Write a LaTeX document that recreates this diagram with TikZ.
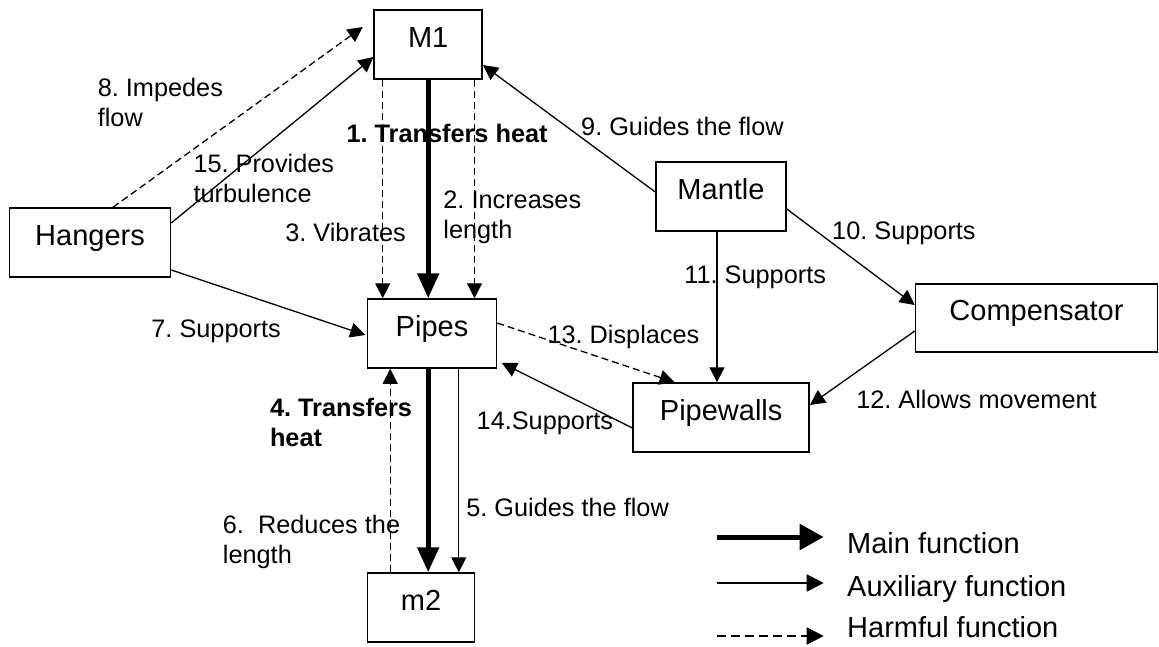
\documentclass[tikz,border=0pt]{standalone}
\usepackage{fontspec}
\setmainfont{Liberation Sans}
\usetikzlibrary{arrows.meta}
\frenchspacing
\begin{document}
\frenchspacing
\begin{tikzpicture}[x=1pt,y=-1pt,
  box/.style={draw,line width=1.5pt,inner sep=0pt,minimum height=69pt,
    font=\fontsize{29}{33}\selectfont,text height=22pt,text depth=16.2pt},
  lbl/.style={anchor=west,inner sep=0pt,align=left,font=\fontsize{25.3}{30}\selectfont},
  blbl/.style={lbl,font=\fontsize{25.3}{30}\selectfont\bfseries},
  leg/.style={anchor=base west,inner sep=0pt,font=\fontsize{29}{33}\selectfont},
  aux/.style={line width=1.3pt,-{Triangle[length=15pt,width=15pt]}},
  harm/.style={aux,dash pattern=on 7pt off 4pt},
  mainf/.style={line width=5pt,-{Triangle[length=25pt,width=21pt]}},
  legaux/.style={line width=1.6pt,-{Triangle[length=17pt,width=17pt]}},
  legharm/.style={legaux,dash pattern=on 9pt off 5pt},
  legmain/.style={line width=5pt,-{Triangle[length=24pt,width=25pt]}}]
\useasboundingbox (0,0) rectangle (1159,647);

% boxes
\node[box,minimum width=108pt] (M1)    at (428.2,44.5)  {M1};
\node[box,minimum width=161pt] (Hang)  at (90,242.5)    {Hangers};
\node[box,minimum width=129pt] (Pipes) at (432,333.5)   {Pipes};
\node[box,minimum width=107pt] (m2)    at (421,607.5)   {m2};
\node[box,minimum width=130pt] (Mant)  at (721,196.5)   {Mantle};
\node[box,minimum width=242pt,minimum height=68pt] (Comp) at (1036.5,318) {Compensator};
\node[box,minimum width=176pt] (PW)    at (721.2,417.5) {Pipewalls};

% coordinates
\coordinate (c1) at (M1.south);
\coordinate (c3) at ([xshift=-45.5pt]M1.south);
\coordinate (c2) at ([xshift=46.3pt]M1.south);
\coordinate (p4) at (c1 |- Pipes.south);
\coordinate (p5) at ([xshift=30.6pt]p4);
\coordinate (p6) at ([xshift=-38pt]p4);
\coordinate (h8) at ([xshift=23pt]Hang.north);
\coordinate (m8) at ([xshift=-10.7pt,yshift=17.5pt]M1.west);
\coordinate (h15) at ([yshift=19.5pt]Hang.east);
\coordinate (m15) at ([yshift=-12.5pt]M1.west);
\coordinate (h7) at ([yshift=-27.5pt]Hang.east);
\coordinate (p7) at ([xshift=-1.5pt,yshift=-1.5pt]Pipes.west);
\coordinate (n9) at ([yshift=4.5pt]Mant.west);
\coordinate (m9) at ([yshift=-20.5pt]M1.east);
\coordinate (n10) at ([yshift=-12.5pt]Mant.east);
\coordinate (k10) at ([yshift=13pt]Comp.west);
\coordinate (n11) at ([xshift=-4pt]Mant.south);
\coordinate (k12) at ([yshift=-13pt]Comp.west);
\coordinate (w12) at ([yshift=12.5pt]PW.east);
\coordinate (p13) at ([yshift=10.5pt]Pipes.east);
\coordinate (w13) at ([xshift=-46.6pt]PW.north);
\coordinate (w14) at ([yshift=-10.5pt]PW.west);
\coordinate (p14) at ([xshift=4.6pt,yshift=-29.5pt]Pipes.east);

% connectors
\draw[mainf] (c1) -- (c1 |- Pipes.north);
\draw[harm] (c3) -- (c3 |- Pipes.north);
\draw[harm] (c2) -- (c2 |- Pipes.north);
\draw[mainf] (p4) -- (p4 |- m2.north);
\draw[aux] (p5) -- (p5 |- m2.north);
\draw[harm] (p6 |- m2.north) -- (p6);
\draw[harm] (h8) -- (m8);
\draw[aux] (h15) -- (m15);
\draw[aux] (h7) -- (p7);
\draw[aux] (n9) -- (m9);
\draw[aux] (n10) -- (k10);
\draw[aux] (n11) -- (n11 |- PW.north);
\draw[aux] (k12) -- (w12);
\draw[harm] (p13) -- (w13);
\draw[aux] (w14) -- (p14);

% labels
\node[lbl] (l8) at (97.6,102) {8. Impedes\\flow};
\node[lbl] (l15) at (193.3,178) {15. Provides\\turbulence};
\node[blbl] (l1) at (346.3,133) {1. Transfers heat};
\node[lbl] (l3) at (285.1,232) {3. Vibrates};
\node[lbl] (l2) at (443.2,217) {2. Increases\\length};
\node[lbl] (l9) at (581,126) {9. Guides the flow};
\node[lbl] (l10) at (832,233) {10. Supports};
\node[lbl] (l11) at (684.2,277) {11. Supports};
\node[lbl] (l7) at (151.2,331) {7. Supports};
\node[lbl] (l13) at (547.3,337) {13. Displaces};
\node[blbl] (l4) at (269.8,422) {4. Transfers\\heat};
\node[lbl] (l14) at (476.5,423) {14.Supports};
\node[lbl] (l12) at (856.1,399) {12. Allows movement};
\node[lbl] (l5) at (466.1,507) {5. Guides the flow};
\node[lbl] (l6) at (222.7,542) {6.\ \ Reduces the\\length};

% legend
\node[leg] (t1) at (847,553) {Main function};
\node[leg] (t2) at (847,596) {Auxiliary function};
\node[leg] (t3) at (847,637) {Harmful function};
\coordinate (a1) at (716.7,537);
\coordinate (b1) at (823.7,537);
\coordinate (a2) at (716.7,583);
\coordinate (b2) at (823.7,583);
\coordinate (a3) at (716.7,636);
\coordinate (b3) at (823.7,636);
\draw[legmain] (a1) -- (b1);
\draw[legaux] (a2) -- (b2);
\draw[legharm] (a3) -- (b3);
\end{tikzpicture}
\end{document}
